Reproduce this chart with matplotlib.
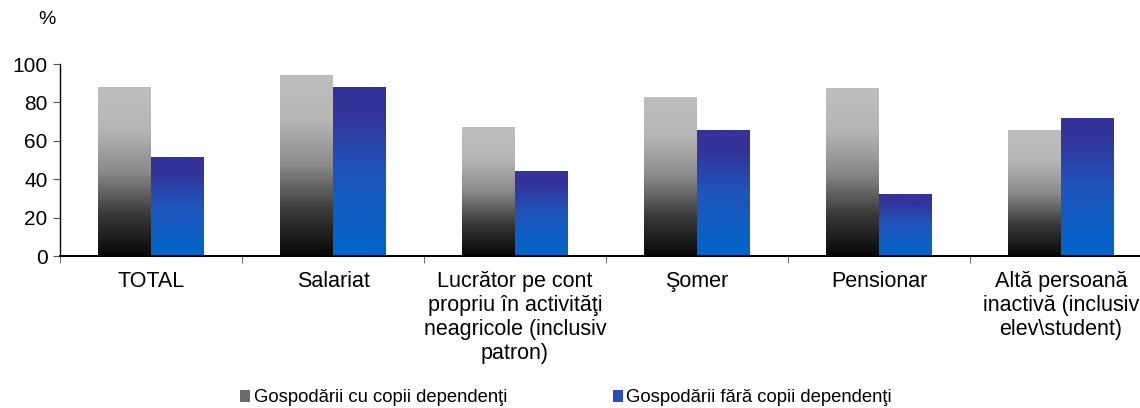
import numpy as np
import matplotlib
matplotlib.use("Agg")
import matplotlib.pyplot as plt
from matplotlib.colors import LinearSegmentedColormap
from matplotlib.patches import Patch

plt.rcParams["font.family"] = ["Liberation Sans", "DejaVu Sans"]

categories = [
    "TOTAL",
    "Salariat",
    "Lucrător pe cont\npropriu în activităţi\nneagricole (inclusiv\npatron)",
    "Şomer",
    "Pensionar",
    "Altă persoană\ninactivă (inclusiv\nelev\\student)",
]
with_children = [88.0, 94.3, 67.2, 82.8, 87.5, 65.6]
without_children = [51.5, 88.0, 44.3, 65.6, 32.3, 71.9]
series_names = [
    "Gospodării cu copii dependenţi",
    "Gospodării fără copii dependenţi",
]

gray_cmap = LinearSegmentedColormap.from_list(
    "g", [(0.0, "#070707"), (0.25, "#3a3a3a"), (0.5, "#8a8a8a"),
          (0.75, "#b6b6b6"), (1.0, "#bebebe")]
)
blue_cmap = LinearSegmentedColormap.from_list(
    "b", [(0.0, "#0066cc"), (0.5, "#1f55bb"), (0.85, "#333399"),
          (1.0, "#333399")]
)

fig = plt.figure(figsize=(11.4, 4.08), dpi=100)
ax = fig.add_axes([60 / 1140, 152 / 408, 1092 / 1140, 192 / 408])

x = np.arange(len(categories)) + 0.5
w = 0.29

grad = np.linspace(0, 1, 256).reshape(-1, 1)


def gradient_bars(xs, heights, cmap):
    bars = ax.bar(xs, heights, width=w, facecolor="none", edgecolor="none")
    for b in bars:
        x0, y0 = b.get_x(), b.get_y()
        x1, y1 = x0 + b.get_width(), y0 + b.get_height()
        im = ax.imshow(grad, cmap=cmap, origin="lower", aspect="auto",
                       extent=[x0, x1, y0, y1], zorder=2)
        im.set_clip_path(b)


gradient_bars(x - w / 2, with_children, gray_cmap)
gradient_bars(x + w / 2, without_children, blue_cmap)

ax.set_xlim(0, len(categories))
ax.set_ylim(0, 100)
ax.set_yticks([0, 20, 40, 60, 80, 100])
ax.set_xticks(x)
ax.set_xticklabels(categories, fontsize=15.5, linespacing=1.18)
ax.set_xticks(np.arange(len(categories) + 1), minor=True)
ax.tick_params(axis="x", which="major", length=0, pad=11)
ax.tick_params(axis="x", which="minor", length=5, direction="out",
               color="#555555")
ax.tick_params(axis="y", length=5, direction="out", labelsize=15,
               color="#555555", pad=4)

for s in ["top", "right"]:
    ax.spines[s].set_visible(False)
ax.spines["left"].set_linewidth(1.0)
ax.spines["bottom"].set_linewidth(1.5)

fig.text(38 / 1140, 1 - 20 / 408, "%", fontsize=14, va="center")

handles = [
    Patch(facecolor="#6a6a6a", edgecolor="none"),
    Patch(facecolor="#2a4db8", edgecolor="none"),
]
fig.legend(handles, series_names, loc="center", ncol=2,
           bbox_to_anchor=(566 / 1140, 1 - 398 / 408), frameon=False,
           fontsize=13.3, handlelength=0.55, handleheight=0.55,
           handletextpad=0.2, columnspacing=5.7)

fig.savefig("out.png", dpi=100)
